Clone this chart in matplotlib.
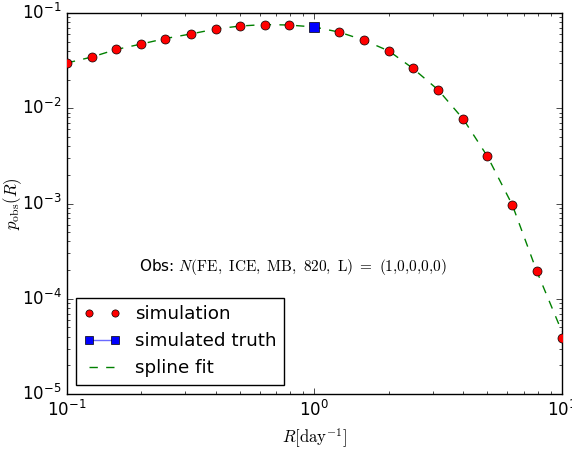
import matplotlib
matplotlib.use("Agg")
import matplotlib.pyplot as plt
import numpy as np

plt.style.use('classic')
plt.rcParams['mathtext.fontset'] = 'cm'

# data
R_sim = [0.1, 0.126, 0.158, 0.2, 0.25, 0.316, 0.4, 0.5, 0.63, 0.79,
         1.26, 1.58, 2.0, 2.5, 3.16, 4.0, 5.0, 6.3, 7.9, 10.0]
p_sim = [0.0299, 0.0345, 0.0414, 0.0473, 0.054, 0.0602, 0.068, 0.073, 0.0757, 0.0748,
         0.063, 0.052, 0.0399, 0.0262, 0.0156, 0.00764, 0.00312, 0.000966, 0.000196, 3.9e-5]
R_truth = [1.0]
p_truth = [0.0713]
R_spline = [0.1, 0.126, 0.158, 0.2, 0.25, 0.316, 0.4, 0.5, 0.63, 0.79, 1.0,
            1.26, 1.58, 2.0, 2.5, 3.16, 4.0, 5.0, 6.3, 7.9, 10.0]
p_spline = [0.0299, 0.0345, 0.0414, 0.0473, 0.054, 0.0602, 0.068, 0.073, 0.0757, 0.0748, 0.0713,
            0.063, 0.052, 0.0399, 0.0262, 0.0156, 0.00764, 0.00312, 0.000966, 0.000196, 4.5e-5]

fig = plt.figure(figsize=(5.72, 4.49), dpi=100)
ax = fig.add_axes([0.117, 0.1225, 0.8655, 0.8485])

ax.plot(R_sim, p_sim, 'o', color='red', markeredgecolor='black', markersize=6.5,
        label='simulation', zorder=3)
ax.plot(R_truth, p_truth, 's-', color='#6a6aff', markerfacecolor='blue',
        markeredgecolor='black', markersize=6.5, label='simulated truth', zorder=4)
ax.plot(R_spline, p_spline, '--', color='green', label='spline fit', zorder=2)

ax.set_xscale('log')
ax.set_yscale('log')
ax.set_xlim(0.1, 10)
ax.set_ylim(1e-5, 1e-1)
ax.set_xlabel(r'$R[\mathrm{day}^{-1}]$', fontsize=12)
ax.set_ylabel(r'$p_{\rm obs}(R)$', fontsize=12)
ax.yaxis.set_label_coords(-0.086, 0.5)

ax.text(0.456, 0.333, r'Obs: $N(\mathrm{FE,\ ICE,\ MB,\ 820,\ L})\ =\ (1{,}0{,}0{,}0{,}0)$',
        transform=ax.transAxes, ha='center', va='center', fontsize=11)

leg = ax.legend(loc='lower left', numpoints=2, fontsize=13.2, markerscale=0.8,
                borderaxespad=0.5)

fig.savefig('out.png', dpi=100)
